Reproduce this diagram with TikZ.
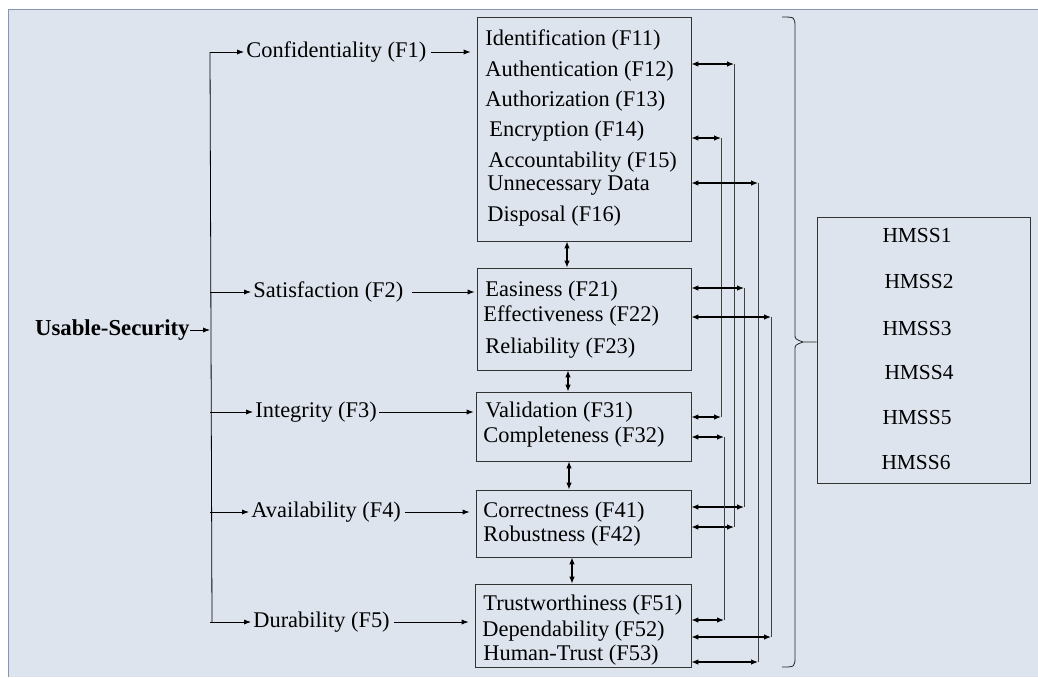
\documentclass[tikz,border=0pt]{standalone}
\usepackage{fontspec}
\setmainfont{Liberation Serif}
\usetikzlibrary{arrows.meta,fit}
\definecolor{bgblue}{HTML}{DDE4EE}
\definecolor{edgeblue}{HTML}{8496B2}

\begin{document}
\begin{tikzpicture}[x=0.5pt, y=-0.5pt, font=\fontsize{11.2}{13}\selectfont]
\tikzstyle{catbox}=[rectangle, draw=black!80, thin, inner sep=0pt]
\tikzstyle{itemtext}=[anchor=west, inner sep=0pt]
\tikzstyle{labeltext}=[anchor=west, inner sep=0pt]
\tikzstyle{hmtext}=[inner sep=0pt, font=\fontsize{10.7}{12}\selectfont]
\tikzstyle{drawstyle}=[thin, -{Latex[length=3.5pt,width=2.6pt]}]
\tikzstyle{dblstyle}=[semithick, {Latex[length=3.5pt,width=2.8pt]}-{Latex[length=3.5pt,width=2.8pt]}]
\tikzstyle{busstyle}=[thin, black!75]

\useasboundingbox (0,0) rectangle (1038,677);
\fill[bgblue] (8,9) rectangle (1038,677);
\draw[edgeblue] (8,677) -- (8,9) -- (1038,9);

% boxes
\node[catbox, fit={(477,17) (691,241)}] (B1) {};
\node[catbox, fit={(477,268) (691,370)}] (B2) {};
\node[catbox, fit={(476,392) (691,461)}] (B3) {};
\node[catbox, fit={(476,490) (691,557)}] (B4) {};
\node[catbox, fit={(475,584) (691,667)}] (B5) {};
\node[catbox, fit={(817,217) (1030,483)}] (HM) {};

% box items
\node[itemtext] (F11) at (485,40) {Identification (F11)};
\node[itemtext] (F12) at (485,71) {Authentication (F12)};
\node[itemtext] (F13) at (485,101) {Authorization (F13)};
\node[itemtext] (F14) at (489,131) {Encryption (F14)};
\node[itemtext] (F15) at (488,162) {Accountability (F15)};
\node[itemtext] (F16a) at (487,186) {Unnecessary Data};
\node[itemtext] (F16b) at (487,216) {Disposal (F16)};
\node[itemtext] (F21) at (485,291) {Easiness (F21)};
\node[itemtext] (F22) at (483,316) {Effectiveness (F22)};
\node[itemtext] (F23) at (485,348) {Reliability (F23)};
\node[itemtext] (F31) at (485,412) {Validation (F31)};
\node[itemtext] (F32) at (483,437) {Completeness (F32)};
\node[itemtext] (F41) at (483,512) {Correctness (F41)};
\node[itemtext] (F42) at (483,536) {Robustness (F42)};
\node[itemtext] (F51) at (483,605) {Trustworthiness (F51)};
\node[itemtext] (F52) at (482,631) {Dependability (F52)};
\node[itemtext] (F53) at (483,655) {Human-Trust (F53)};

% HMSS list
\node[hmtext] (H1) at (917,236) {HMSS1};
\node[hmtext] (H2) at (919,282) {HMSS2};
\node[hmtext] (H3) at (917,329) {HMSS3};
\node[hmtext] (H4) at (919,373) {HMSS4};
\node[hmtext] (H5) at (917,418) {HMSS5};
\node[hmtext] (H6) at (916,463) {HMSS6};

% left tree
\node[anchor=east, inner sep=0pt, font=\fontsize{11.4}{13}\selectfont\bfseries] (US) at (190,330) {Usable-Security};
\node[labeltext] (F1) at (246,52) {Confidentiality (F1)};
\node[labeltext] (F2) at (253,292) {Satisfaction (F2)};
\node[labeltext] (F3) at (255,412) {Integrity (F3)};
\node[labeltext] (F4) at (251,512) {Availability (F4)};
\node[labeltext] (F5) at (253,622) {Durability (F5)};

\coordinate (T1) at (210,52);
\coordinate (T5) at (212,622);
\draw[thin] (T1) -- (T5);
\draw[drawstyle] (US.east) -- (US.east -| T1);
\foreach \f in {1,2,3,4,5}
  \draw[drawstyle] (F\f.west -| T1) -- ([xshift=-1pt]F\f.west);
\draw[drawstyle] ([xshift=2pt]F1.east) -- ([xshift=-3pt]F1.east -| B1.west);
\draw[drawstyle] ([xshift=4pt]F2.east) -- ([xshift=-1pt]F2.east -| B2.west);
\draw[drawstyle] ([xshift=1pt]F3.east) -- ([xshift=-1pt]F3.east -| B3.west);
\draw[drawstyle] ([xshift=2pt]F4.east) -- ([xshift=-3pt]F4.east -| B4.west);
\draw[drawstyle] ([xshift=2pt]F5.east) -- ([xshift=-3pt]F5.east -| B5.west);

% links between boxes
\draw[dblstyle] (B1.south -| 567,0) -- (B2.north -| 567,0);
\draw[dblstyle] (B2.south -| 568,0) -- (B3.north -| 568,0);
\draw[dblstyle] (B3.south -| 569,0) -- (B4.north -| 569,0);
\draw[dblstyle] (B4.south -| 572,0) -- (B5.north -| 572,0);

% buses on the right
\foreach \n/\bx/\ya/\ba/\yb/\bb in {a/734/64/B1/527/B4, b/721/138/B1/417/B3, c/758/183/B1/662/B5,
    d/744/288/B2/507/B4, e/771/317/B2/637/B5, f/724/437/B3/620/B5} {
  \coordinate (bus\n1) at (\bx,\ya);
  \coordinate (bus\n2) at (\bx,\yb);
  \draw[busstyle] (bus\n1) -- (bus\n2);
  \draw[dblstyle] (\ba.east |- bus\n1) -- (bus\n1);
  \draw[dblstyle] (\bb.east |- bus\n2) -- (bus\n2);
}

% brace
\coordinate (tip) at (HM.west |- 0,342);
\draw[thin, black!85] (782,17) .. controls (795,17) .. (795,28) -- (795,334)
  .. controls (795,339) .. (803,342) -- (tip);
\draw[thin, black!85] (803,342) .. controls (795,345) .. (795,350) -- (795,656)
  .. controls (795,667) .. (782,667);
\end{tikzpicture}
\end{document}
